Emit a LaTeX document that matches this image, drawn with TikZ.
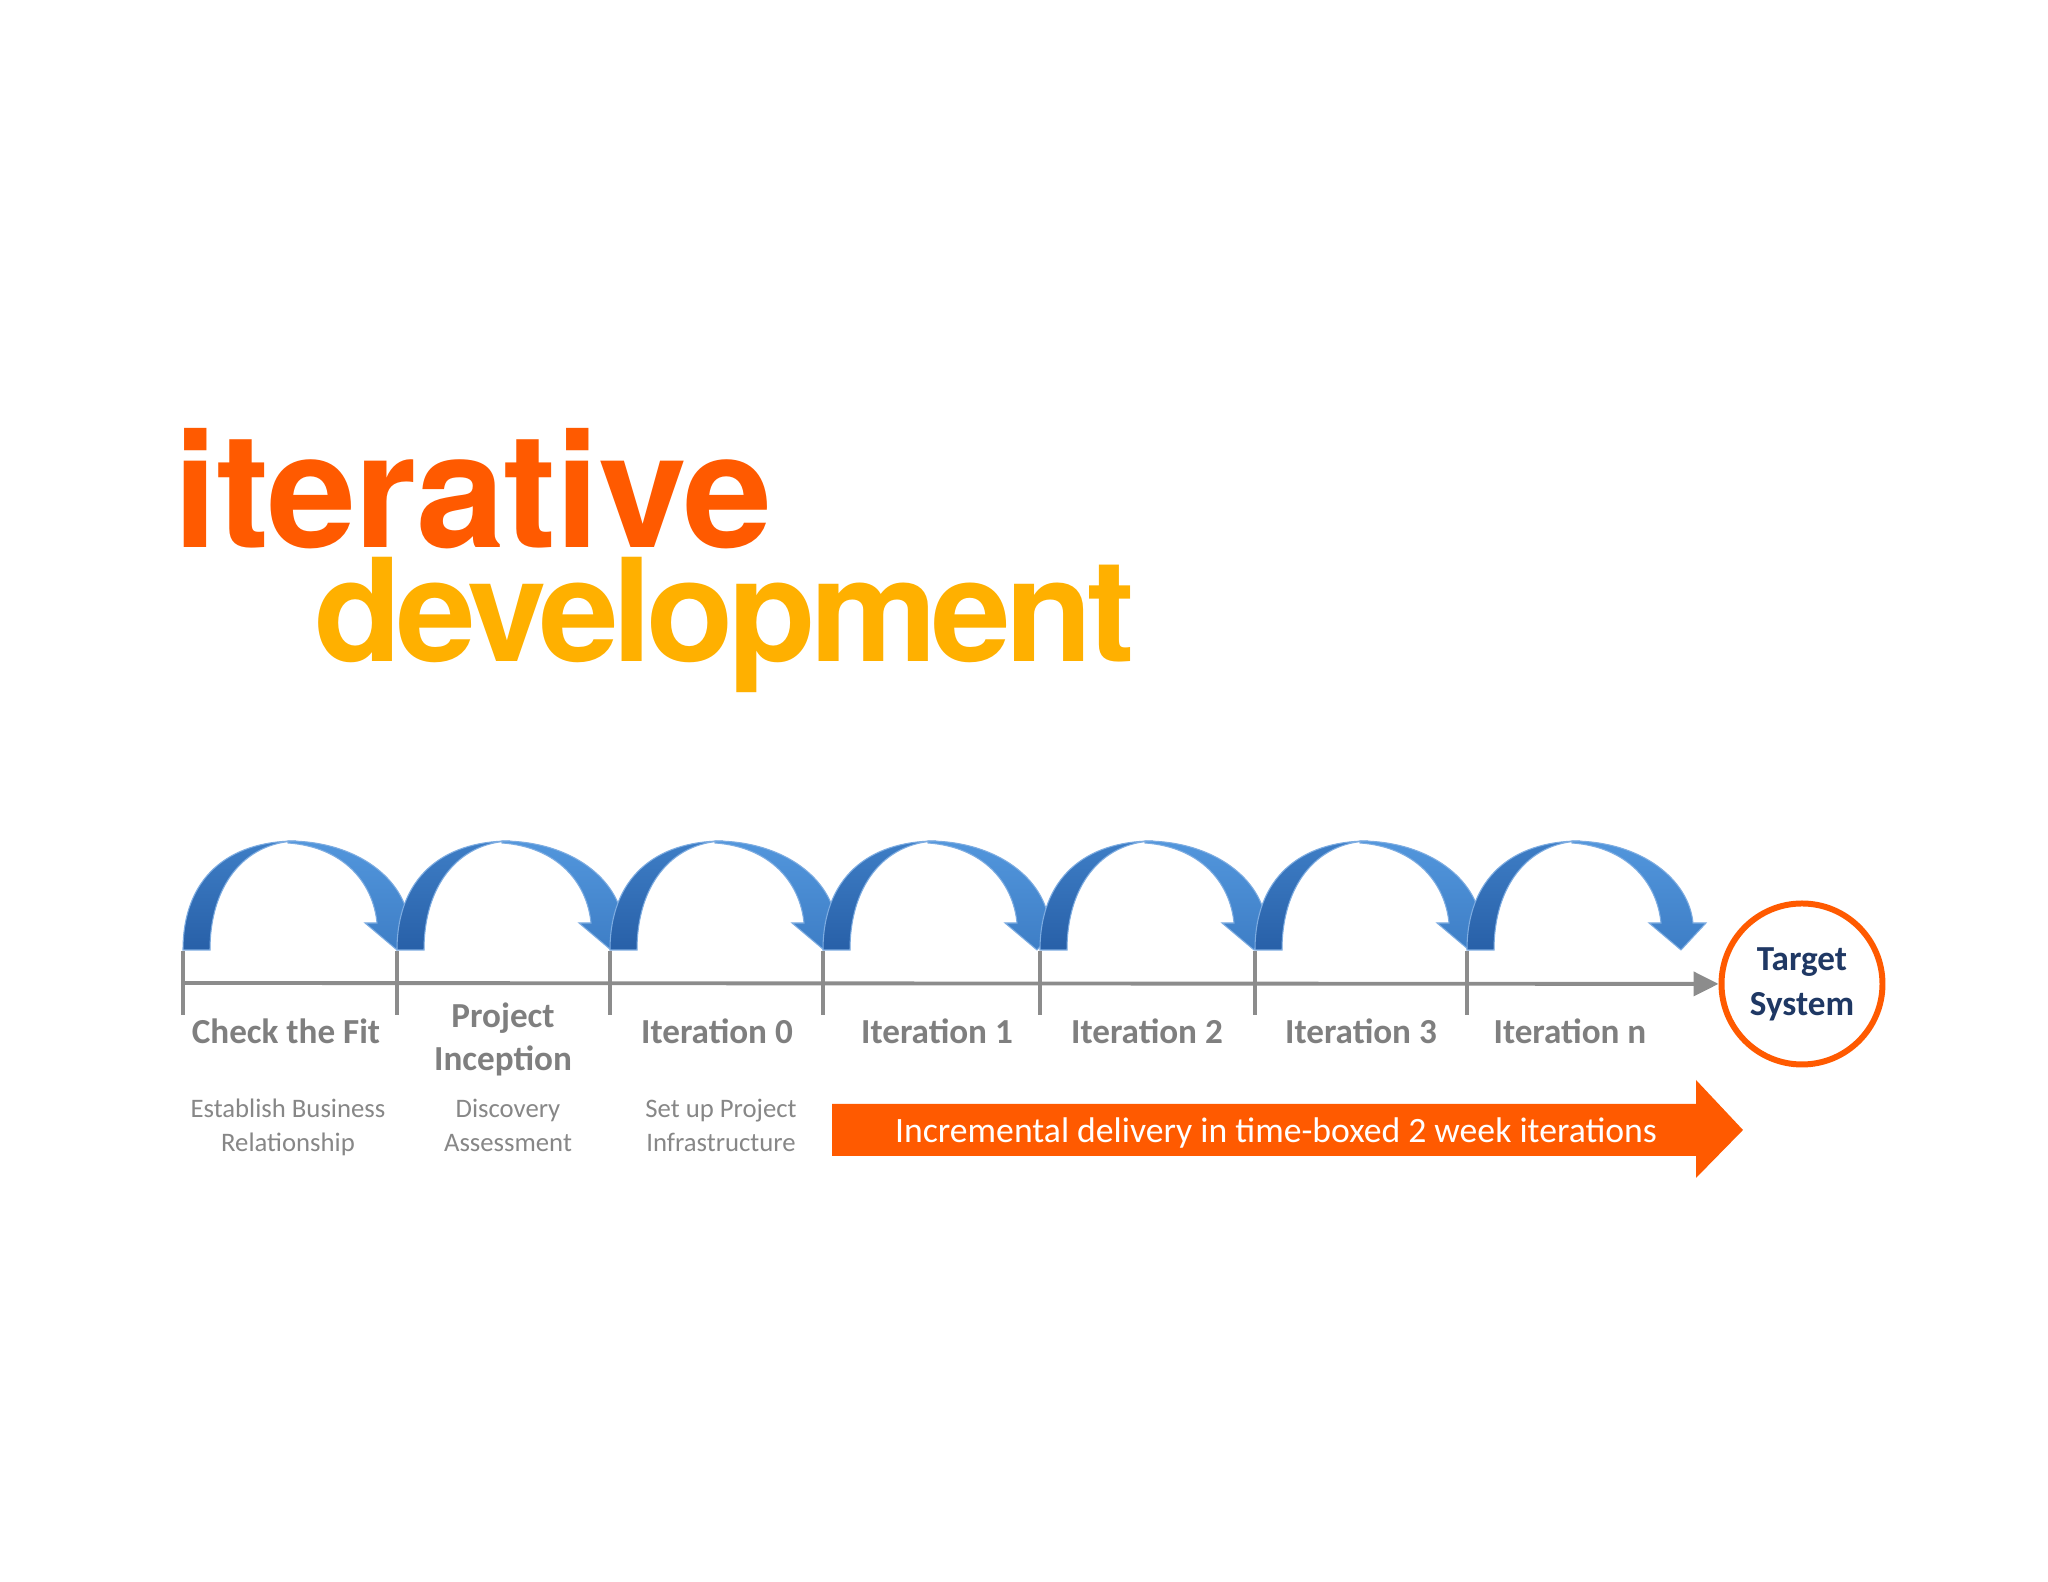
\documentclass[tikz,border=0pt]{standalone}
\usepackage{fontspec}
\setmainfont{Carlito}
\newfontfamily\iterfont[LetterSpace=-1]{TeX Gyre Heros}
\newfontfamily\devfont[LetterSpace=-4]{TeX Gyre Heros}
\usetikzlibrary{arrows.meta}

\definecolor{itorange}{RGB}{255,90,0}
\definecolor{devyellow}{RGB}{255,176,0}
\definecolor{linegrey}{RGB}{140,140,140}
\definecolor{labelgrey}{RGB}{127,127,127}
\definecolor{descgrey}{RGB}{135,135,135}
\definecolor{navy}{RGB}{31,56,100}
\definecolor{arcdark}{RGB}{40,96,168}
\definecolor{arcmid}{RGB}{62,126,198}
\definecolor{arclight}{RGB}{82,150,220}
\definecolor{arcedge}{RGB}{125,172,225}

\begin{document}
\begin{tikzpicture}[
  phase/.style={font=\fontsize{10}{12.5}\selectfont\bfseries,text=labelgrey,align=center,inner sep=0pt,anchor=base},
  phasedesc/.style={font=\fontsize{7.6}{9.7}\selectfont,text=descgrey,align=center,inner sep=0pt,anchor=base},
  tickline/.style={draw=linegrey,line width=1.1pt},
  timeline/.style={draw=linegrey,line width=1.1pt,-{Triangle[length=0.25cm,width=0.24cm]}},
  arcleft/.style={top color=arcmid,bottom color=arcdark,draw=arcedge,line width=0.3pt},
  arcright/.style={top color=arclight,bottom color=arcmid,draw=arcedge,line width=0.3pt},
  target/.style={circle,draw=itorange,line width=1.7pt,minimum size=1.61cm,inner sep=0pt,
    text=navy,font=\fontsize{10}{12.8}\selectfont\bfseries,align=center}
]
\useasboundingbox[fill=white] (0,0) rectangle (20.48,15.82);

% ===== TITLE =====
\node[anchor=base west,inner sep=0pt,text=itorange,font=\iterfont\bfseries\fontsize{45.5}{50}\selectfont] (title_it) at (1.73,10.34) {iterative};
\node[anchor=base west,inner sep=0pt,text=devyellow,font=\devfont\bfseries\fontsize{40.7}{46}\selectfont] (title_dev) at (3.14,9.20) {development};

% ===== TIMELINE =====
\coordinate (t0) at (1.83,5.99);
\coordinate (t1) at (3.97,5.99);
\coordinate (t2) at (6.10,5.99);
\coordinate (t3) at (8.23,5.99);
\coordinate (t4) at (10.40,5.99);
\coordinate (t5) at (12.55,5.99);
\coordinate (t6) at (14.67,5.99);

\node[target] (target) at (18.02,5.98) {Target\\System};

\foreach \i in {0,...,6}
  \draw[tickline] ([yshift=0.32cm]t\i) -- ([yshift=-0.32cm]t\i);
\draw[timeline] (t0) -- (target);

% Arcs from tick to tick
\foreach \i in {0,...,6} {
  \begin{scope}[shift={(t\i)},yshift=0.33cm]
    \path[arcleft] (0,0) .. controls (0,0.72) and (0.45,1.09) .. (1.13,1.09)
      .. controls (0.60,1.07) and (0.27,0.63) .. (0.27,0) -- cycle;
    \path[arcright] (1.05,1.09) .. controls (1.75,1.09) and (2.22,0.70) .. (2.26,0.27)
      -- (2.39,0.27) -- (2.14,0) -- (1.82,0.27) -- (1.94,0.27)
      .. controls (1.90,0.68) and (1.60,1.03) .. (1.05,1.07) -- cycle;
  \end{scope}
}

% Phase labels
\node[phase] (check) at (2.86,5.38) {Check the Fit};
\node[phase] (inception) at (5.03,5.11) {Project\\Inception};
\node[phase] (iter0) at (7.17,5.38) {Iteration 0};
\node[phase] (iter1) at (9.37,5.38) {Iteration 1};
\node[phase] (iter2) at (11.47,5.38) {Iteration 2};
\node[phase] (iter3) at (13.61,5.38) {Iteration 3};
\node[phase] (itern) at (15.70,5.38) {Iteration n};

% Descriptions
\node[phasedesc] (check_desc) at (2.88,4.30) {Establish Business\\Relationship};
\node[phasedesc] (inception_desc) at (5.08,4.30) {Discovery\\Assessment};
\node[phasedesc] (iter0_desc) at (7.21,4.30) {Set up Project\\Infrastructure};

% ===== INCREMENTAL DELIVERY ARROW =====
\fill[itorange] (8.32,4.78) -- (16.96,4.78) -- (16.96,5.02) -- (17.43,4.52)
  -- (16.96,4.04) -- (16.96,4.26) -- (8.32,4.26) -- cycle;
\node[anchor=base,inner sep=0pt,text=white,font=\fontsize{10.15}{12}\selectfont] (incr) at (12.76,4.39) {Incremental delivery in time-boxed 2 week iterations};

\end{tikzpicture}
\end{document}
